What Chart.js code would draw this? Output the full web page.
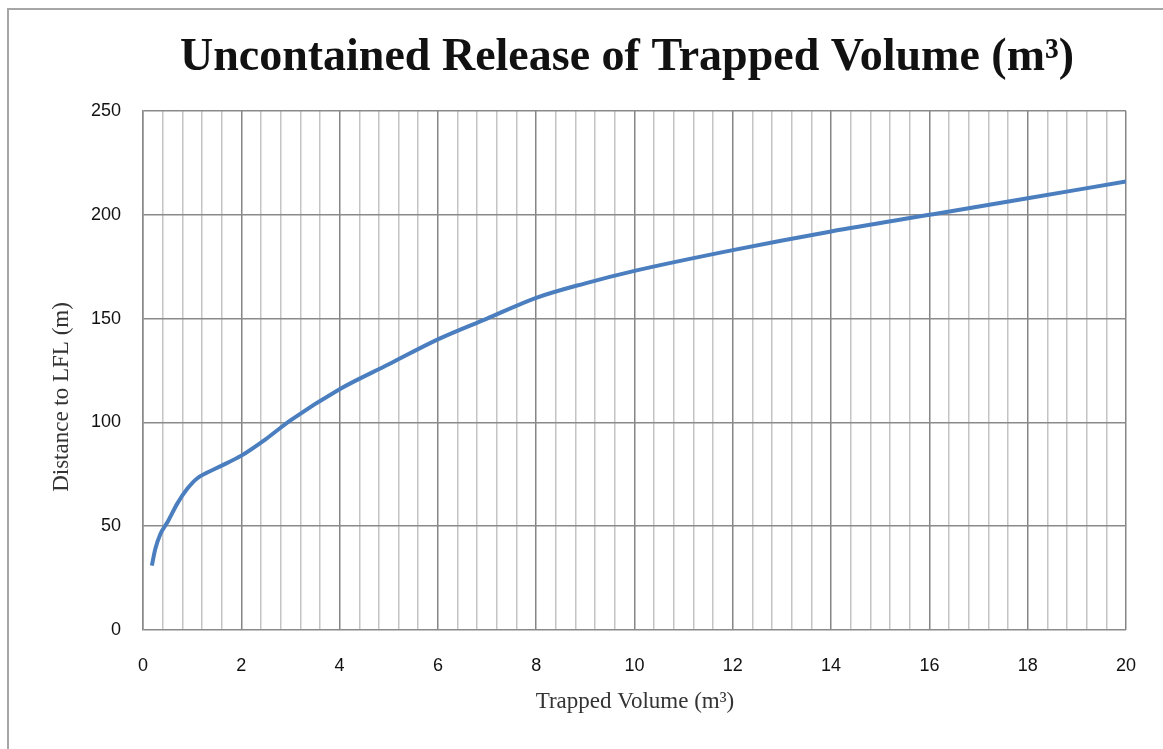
<!DOCTYPE html>
<html>
<head>
<meta charset="utf-8">
<title>Uncontained Release of Trapped Volume</title>
<script src="https://cdn.jsdelivr.net/npm/chart.js@4/dist/chart.umd.min.js"></script>
<style>
    html, body { margin: 0; padding: 0; background: #fff; overflow: hidden; }
    #frame {
        position: absolute; left: 7px; top: 8px; width: 1200px; height: 800px;
        border-left: 2px solid #a6a6a6; border-top: 2px solid #a6a6a6;
    }
    #wrap { position: absolute; left: 0; top: 0; width: 1163px; height: 749px; }
</style>
</head>
<body>
<div id="frame"></div>
<div id="wrap"><canvas id="lflChart" width="1163" height="749"></canvas></div>
<script>
// Data
const volumes   = [0.18, 0.25, 0.35, 0.5, 0.7, 0.9, 1.1, 1.5, 2, 2.5, 3, 4, 5, 6, 7, 8, 9, 10, 12, 14, 16, 18, 20];
const distances = [31, 39, 46, 52, 61, 68, 73, 78, 84, 92, 101, 116, 128, 140, 150, 160, 167, 173, 183, 192, 200, 208, 216];

const chartTitle = 'Uncontained Release of Trapped Volume (m\u00B3)';
const xTitle = 'Trapped Volume (m\u00B3)';
const yTitle = 'Distance to LFL (m)';

const serif = '"Liberation Serif", "DejaVu Serif", serif';
const sans = '"Liberation Sans", Arial, sans-serif';

function isMajor(v) {
    return Math.abs(v / 2 - Math.round(v / 2)) < 1e-6;
}

// titles are drawn by hand so they sit where the original has them
const titlesPlugin = {
    id: 'titles',
    afterDraw(chart) {
        const ctx = chart.ctx;
        ctx.save();
        ctx.fillStyle = '#111';
        ctx.textAlign = 'center';
        ctx.textBaseline = 'middle';
        ctx.font = 'bold 40px ' + serif;
        // stretch the font so the title spans about the same width as the original
        const w = ctx.measureText(chartTitle).width;
        const size = Math.round(40 * 890 / w);
        ctx.font = 'bold ' + size + 'px ' + serif;
        ctx.fillText(chartTitle, 627, 58);

        ctx.fillStyle = '#333';
        ctx.font = '23px ' + serif;
        ctx.fillText(xTitle, 635, 702);

        ctx.translate(62, 397);
        ctx.rotate(-Math.PI / 2);
        ctx.fillText(yTitle, 0, 0);
        ctx.restore();
    }
};

let lflChart;

function initChart() {
    const el = document.getElementById('lflChart');
    if (lflChart) lflChart.destroy();
    lflChart = new Chart(el, {
        type: 'line',
        data: {
            datasets: [{
                data: volumes.map((v, i) => ({ x: v, y: distances[i] })),
                borderColor: '#4a7ebf',
                borderWidth: 4,
                pointRadius: 0,
                fill: false,
                cubicInterpolationMode: 'monotone'
            }]
        },
        options: {
            responsive: false,
            animation: false,
            layout: { padding: { top: 111, left: 0, right: 37, bottom: 0 } },
            plugins: {
                legend: { display: false },
                title: { display: false },
                tooltip: { enabled: false }
            },
            scales: {
                x: {
                    type: 'linear',
                    min: 0,
                    max: 20,
                    ticks: {
                        stepSize: 0.4,
                        autoSkip: false,
                        maxRotation: 0,
                        padding: 25,
                        color: '#111',
                        font: { family: sans, size: 18 },
                        callback: (v) => isMajor(v) ? String(Math.round(v)) : ''
                    },
                    grid: {
                        drawTicks: false,
                        lineWidth: 1.5,
                        color: (c) => isMajor(c.tick.value) ? '#858585' : '#c4c4c4'
                    },
                    border: { display: false },
                    afterFit: (s) => { s.height = 119; }
                },
                y: {
                    min: 0,
                    max: 250,
                    ticks: {
                        stepSize: 50,
                        padding: 22,
                        color: '#111',
                        font: { family: sans, size: 18 }
                    },
                    grid: {
                        drawTicks: false,
                        lineWidth: 1.5,
                        color: '#8a8a8a'
                    },
                    border: { display: true, color: '#8a8a8a', width: 1.5 },
                    afterFit: (s) => { s.width = 143; }
                }
            }
        },
        plugins: [titlesPlugin]
    });
}

window.addEventListener('DOMContentLoaded', () => {
    initChart();
});
</script>
</body>
</html>
